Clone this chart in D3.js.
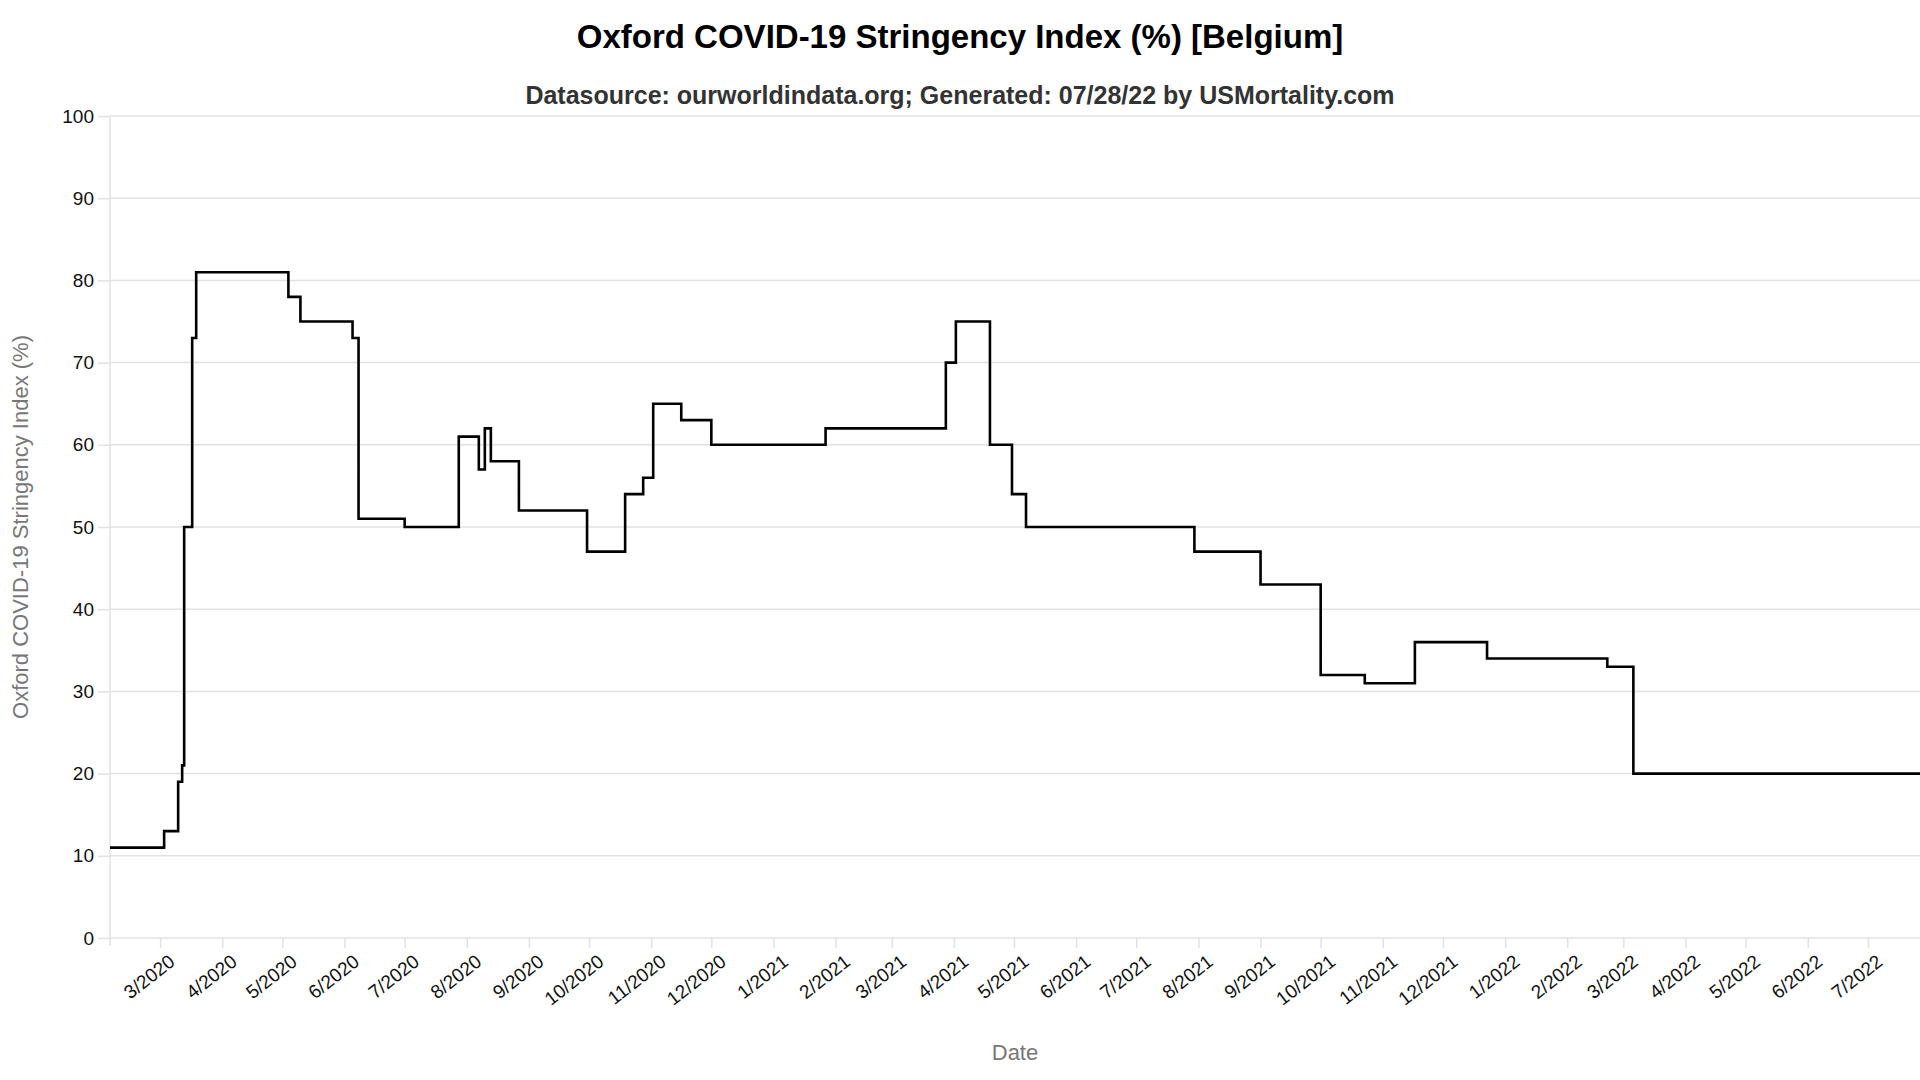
<!DOCTYPE html>
<html><head><meta charset="utf-8">
<script src="https://cdn.jsdelivr.net/npm/d3@7"></script>
<style>body{margin:0;background:#fff;font-family:"Liberation Sans",Arial,sans-serif}</style>
</head><body>
<script>
// change points of the index (step series)
var dates = ["2020-02-05","2020-03-03","2020-03-10","2020-03-12","2020-03-13","2020-03-17","2020-03-19",
  "2020-05-04","2020-05-10","2020-06-05","2020-06-08","2020-07-01","2020-07-28","2020-08-07","2020-08-10",
  "2020-08-13","2020-08-27","2020-09-30","2020-10-19","2020-10-28","2020-11-02","2020-11-16","2020-12-01",
  "2021-01-27","2021-03-28","2021-04-02","2021-04-19","2021-04-30","2021-05-07","2021-07-30","2021-09-01",
  "2021-10-01","2021-10-23","2021-11-17","2021-12-23","2022-02-21","2022-03-06","2022-07-27"];
var values = [11,13,19,21,50,73,81,78,75,73,51,50,61,57,62,58,52,47,54,56,65,63,60,62,70,75,60,54,50,47,43,32,31,36,34,33,20,20];
var yTicks = [0,10,20,30,40,50,60,70,80,90,100];

var W = 1920, H = 1080;
var margin = {top: 116, right: 0, bottom: 142, left: 110},
    width = W - margin.left - margin.right,
    height = H - margin.top - margin.bottom;
var parse = d3.timeParse("%Y-%m-%d");
var data = dates.map(function(d, i){ return {date: parse(d), value: values[i]}; });

var svg = d3.select("body").append("svg").attr("width", W).attr("height", H);
var g = svg.append("g").attr("transform", "translate(" + margin.left + "," + margin.top + ")");

var x = d3.scaleTime().domain([data[0].date, data[data.length-1].date]).range([0, width]);
var y = d3.scaleLinear().domain([0, 100]).range([height, 0]);

// grid
g.append("g").selectAll("line").data(yTicks).enter().append("line")
  .attr("x1", 0).attr("x2", width).attr("y1", y).attr("y2", y)
  .attr("stroke", "#e2e2e2").attr("stroke-width", 1.5);
g.append("line").attr("x1", 0).attr("x2", 0).attr("y1", 0).attr("y2", height + 8)
  .attr("stroke", "#e2e2e2").attr("stroke-width", 1.5);

// y axis
var yAxis = g.append("g").call(d3.axisLeft(y).tickValues(yTicks).tickSize(12).tickPadding(4));
yAxis.select(".domain").remove();
yAxis.selectAll("line").attr("stroke", "#e2e2e2").attr("stroke-width", 1.5);
yAxis.selectAll("text").style("font-size", "19px").attr("fill", "#111");

// x axis
var xAxis = g.append("g").attr("transform", "translate(0," + height + ")")
  .call(d3.axisBottom(x).ticks(d3.timeMonth.every(1)).tickFormat(d3.timeFormat("%-m/%Y")).tickSize(10));
xAxis.select(".domain").remove();
xAxis.selectAll("line").attr("stroke", "#e2e2e2").attr("stroke-width", 1.5);
xAxis.selectAll("text").style("font-size", "19px").attr("fill", "#111")
  .style("text-anchor", "end").attr("dx", "-0.2em").attr("dy", "0.9em")
  .attr("transform", "rotate(-38)");

// line
g.append("path").datum(data)
  .attr("fill", "none").attr("stroke", "#000").attr("stroke-width", 2.6)
  .attr("d", d3.line().curve(d3.curveStepAfter).x(function(d){ return x(d.date); }).y(function(d){ return y(d.value); }));

// titles
svg.append("text").attr("x", W/2).attr("y", 48).attr("text-anchor", "middle")
  .style("font-size", "33px").style("font-weight", "bold").attr("fill", "#000")
  .text("Oxford COVID-19 Stringency Index (%) [Belgium]");
svg.append("text").attr("x", W/2).attr("y", 104).attr("text-anchor", "middle")
  .style("font-size", "25px").style("font-weight", "bold").attr("fill", "#333")
  .text("Datasource: ourworldindata.org; Generated: 07/28/22 by USMortality.com");
svg.append("text").attr("x", margin.left + width/2).attr("y", 1060).attr("text-anchor", "middle")
  .style("font-size", "22px").attr("fill", "#777").text("Date");
svg.append("text").attr("transform", "translate(28," + (margin.top + height/2) + ") rotate(-90)")
  .attr("text-anchor", "middle").style("font-size", "22px").attr("fill", "#777")
  .text("Oxford COVID-19 Stringency Index (%)");
</script>
</body></html>
